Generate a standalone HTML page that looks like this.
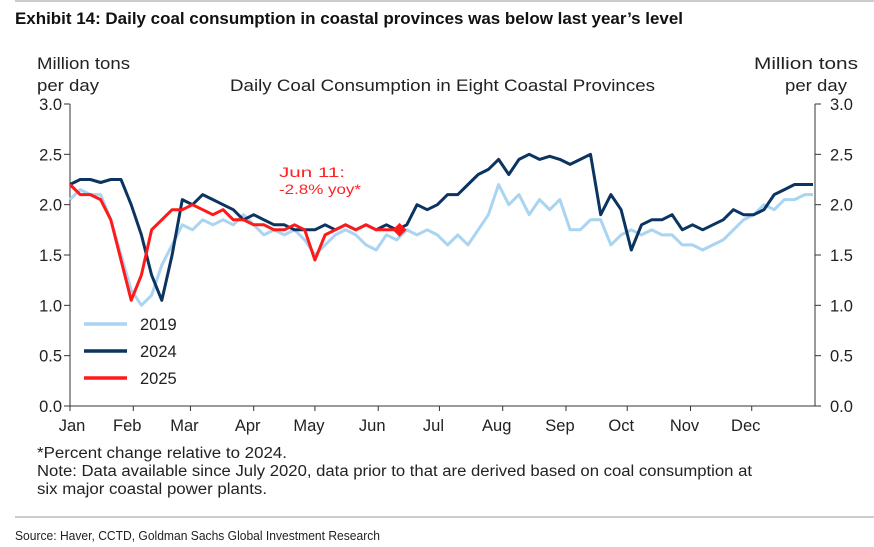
<!DOCTYPE html>
<html><head><meta charset="utf-8"><style>
body{margin:0;background:#fff;width:874px;height:547px;overflow:hidden;font-family:"Liberation Sans",Arial,sans-serif}
svg{position:absolute;left:0;top:0}
</style></head><body>
<svg id="c" width="874" height="547" font-family="Liberation Sans, Arial, sans-serif">
<line x1="15" y1="1" x2="874" y2="1" stroke="#999" stroke-width="1"/>
<text x="15" y="24" font-weight="bold" font-size="17" textLength="668" lengthAdjust="spacingAndGlyphs" fill="#111">Exhibit 14: Daily coal consumption in coastal provinces was below last year’s level</text>
<text x="230" y="91" font-size="16.5" textLength="425" lengthAdjust="spacingAndGlyphs" fill="#222">Daily Coal Consumption in Eight Coastal Provinces</text>
<text font-size="16.5" fill="#222"><tspan x="37" y="69" textLength="93" lengthAdjust="spacingAndGlyphs">Million tons</tspan><tspan x="37" y="91" textLength="62" lengthAdjust="spacingAndGlyphs">per day</tspan></text>
<text font-size="16.5" fill="#222"><tspan x="754" y="69" textLength="104" lengthAdjust="spacingAndGlyphs">Million tons</tspan><tspan x="785" y="91" textLength="62" lengthAdjust="spacingAndGlyphs">per day</tspan></text>
<g id="axes"></g>
<g id="series"></g>
<text font-size="14" fill="#f22"><tspan x="279" y="177" textLength="66" lengthAdjust="spacingAndGlyphs">Jun 11:</tspan><tspan x="279" y="194" textLength="82" lengthAdjust="spacingAndGlyphs">-2.8% yoy*</tspan></text>
<g id="legend"></g>
<text x="37" y="458" font-size="15.5" textLength="250" lengthAdjust="spacingAndGlyphs" fill="#222">*Percent change relative to 2024.</text>
<text x="37" y="476" font-size="15.5" textLength="715" lengthAdjust="spacingAndGlyphs" fill="#222">Note: Data available since July 2020, data prior to that are derived based on coal consumption at</text>
<text x="37" y="494" font-size="15.5" textLength="230" lengthAdjust="spacingAndGlyphs" fill="#222">six major coastal power plants.</text>
<line x1="15" y1="517" x2="874" y2="517" stroke="#999" stroke-width="1"/>
<text x="15" y="540" font-size="13" textLength="365" lengthAdjust="spacingAndGlyphs" fill="#222">Source: Haver, CCTD, Goldman Sachs Global Investment Research</text>
</svg>
<script>
const months=["Jan","Feb","Mar","Apr","May","Jun","Jul","Aug","Sep","Oct","Nov","Dec"];
const monthStart=[0,31,59,90,120,151,181,212,243,273,304,334];
const yTicks=[0,0.5,1.0,1.5,2.0,2.5,3.0];
const step=5;
const s2019=[2.05,2.15,2.1,2.1,1.85,1.5,1.15,1.0,1.1,1.4,1.6,1.8,1.75,1.85,1.8,1.85,1.8,1.9,1.8,1.7,1.75,1.7,1.75,1.65,1.5,1.6,1.7,1.75,1.7,1.6,1.55,1.7,1.65,1.75,1.7,1.75,1.7,1.6,1.7,1.6,1.75,1.9,2.2,2.0,2.1,1.9,2.05,1.95,2.05,1.75,1.75,1.85,1.85,1.6,1.7,1.75,1.7,1.75,1.7,1.7,1.6,1.6,1.55,1.6,1.65,1.75,1.85,1.9,2.0,1.95,2.05,2.05,2.1,2.1];
const s2024=[2.2,2.25,2.25,2.22,2.25,2.25,2.0,1.7,1.3,1.05,1.5,2.05,2.0,2.1,2.05,2.0,1.95,1.85,1.9,1.85,1.8,1.8,1.75,1.75,1.75,1.8,1.75,1.8,1.75,1.8,1.75,1.8,1.75,1.8,2.0,1.95,2.0,2.1,2.1,2.2,2.3,2.35,2.45,2.3,2.45,2.5,2.45,2.48,2.45,2.4,2.45,2.5,1.9,2.1,1.95,1.55,1.8,1.85,1.85,1.9,1.75,1.8,1.75,1.8,1.85,1.95,1.9,1.9,1.95,2.1,2.15,2.2,2.2,2.2];
const s2025=[2.2,2.1,2.1,2.05,1.85,1.45,1.05,1.3,1.75,1.85,1.95,1.95,2.0,1.95,1.9,1.95,1.85,1.85,1.8,1.8,1.75,1.75,1.8,1.75,1.45,1.7,1.75,1.8,1.75,1.8,1.75,1.75,1.75];
const legendLabels=["2019","2024","2025"];
const colors=["#a9d4f2","#0b3560","#ff1a1a"];
const X0=70,X1=815,Y0=406,Y1=104;
const xs=d=>X0+(X1-X0)*d/365;
const ys=v=>Y0-(Y0-Y1)*v/3;
const NS="http://www.w3.org/2000/svg";
function mk(tag,attrs,parent){const e=document.createElementNS(NS,tag);for(const k in attrs)e.setAttribute(k,attrs[k]);parent.appendChild(e);return e;}
const ax=document.getElementById('axes');
let e;
e=mk('line',{x1:X0,y1:Y1,x2:X0,y2:Y0,stroke:'#333'},ax);


e=mk('line',{x1:X1,y1:Y1,x2:X1,y2:Y0,stroke:'#333'},ax);


e=mk('line',{x1:X0,y1:Y0,x2:X1,y2:Y0,stroke:'#333'},ax);


yTicks.forEach(v=>{
  const y=ys(v);
  mk('line',{x1:X0-6,y1:y,x2:X0,y2:y,stroke:'#333'},ax);
  mk('line',{x1:X1,y1:y,x2:X1+6,y2:y,stroke:'#333'},ax);
  e=mk('text',{x:X0-8,y:y+6,'text-anchor':'end','font-size':16.5,fill:'#222'},ax);
  e.textContent=v.toFixed(1);
  
  
  e=mk('text',{x:X1+15,y:y+6,'font-size':16.5,fill:'#222'},ax);
  e.textContent=v.toFixed(1);
  
  
});
months.forEach((m,i)=>{
  const x=xs(monthStart[i]);
  mk('line',{x1:x,y1:Y0,x2:x,y2:Y0+5,stroke:'#333'},ax);
  e=mk('text',{x:i==0?x+2:x-6,y:Y0+25,'text-anchor':'middle','font-size':16.5,fill:'#222'},ax);
  e.textContent=m;
  
  
});
const sg=document.getElementById('series');
[s2019,s2024,s2025].forEach((s,i)=>{
  const pts=s.map((v,k)=>xs(Math.min(k*step,364)).toFixed(1)+','+ys(v).toFixed(1)).join(' ');
  e=mk('polyline',{points:pts,fill:'none',stroke:colors[i],'stroke-width':3,'stroke-linejoin':'round'},sg);
  
  
});
const ld=(s2025.length-1)*step, lv=s2025[s2025.length-1];
const cx=xs(ld)+3, cy=ys(lv);
e=mk('polygon',{points:`${cx-7},${cy} ${cx},${cy-7} ${cx+7},${cy} ${cx},${cy+7}`,fill:'#ff1a1a'},sg);


const lg=document.getElementById('legend');
legendLabels.forEach((l,i)=>{
  const y=324+i*27;
  e=mk('line',{x1:84,y1:y,x2:127,y2:y,stroke:colors[i],'stroke-width':3.5},lg);
  
  
  e=mk('text',{x:140,y:y+6,'font-size':16.5,fill:'#222'},lg);
  e.textContent=l;
  
  
});
</script>
</body></html>
